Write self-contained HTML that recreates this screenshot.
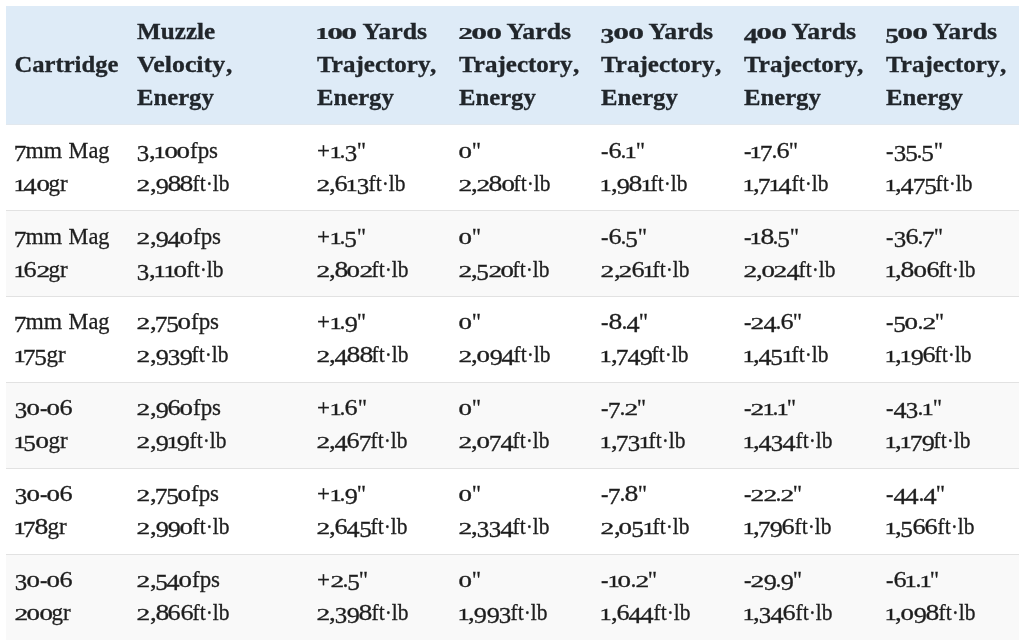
<!DOCTYPE html>
<html lang="en"><head><meta charset="utf-8"><title>Ballistics table</title>
<style>
html,body{margin:0;padding:0;background:#fff;}
body{width:1024px;height:643px;overflow:hidden;position:relative;font-family:"Liberation Serif", "DejaVu Serif", serif;color:#1e1e1e;}
table{position:absolute;left:5.5px;top:6px;width:1012.5px;border-collapse:separate;table-layout:fixed;border-spacing:0;filter:blur(0.45px);will-change:transform;opacity:.999;}
th,td{padding:0 0 0 9.1px;text-align:left;vertical-align:middle;line-height:33px;white-space:nowrap;overflow:visible;box-sizing:border-box;}
th{background:#deebf7;font-weight:bold;font-size:23.5px;height:118px;color:#21262b;}
td{font-size:23.5px;height:86px;border-top:1px solid #e2e2e2;}
tbody tr:first-child td{border-top-color:#e2e8ee;}
tbody tr:nth-child(even) td{background:#f9f9f9;}
.l{display:inline-block;position:relative;}
td .l{top:-1.3px;-webkit-text-stroke:0.3px currentColor;}
tbody tr:nth-child(-n+2) td .l{top:-0.9px;}
th .l{top:-0.5px;-webkit-text-stroke:0.3px currentColor;}
td .d0,td .d1,td .d2{-webkit-text-stroke:0.3px currentColor;}
th .d0,th .d1,th .d2{-webkit-text-stroke:0.22px currentColor;}
.g{display:inline-block;line-height:1;transform-origin:0 0;text-align:left;white-space:pre;}
td .d0{font-size:16.45px;width:12.60px;transform:translate(-0.42px,0px) scaleX(1.635);}
th .d0{font-size:16.92px;width:14.50px;transform:translate(-0.65px,0px) scaleX(1.869);}
td .d1{font-size:16.45px;width:9.40px;transform:translate(-1.57px,0px) scaleX(1.502);}
th .d1{font-size:16.92px;width:11.20px;transform:translate(-1.72px,0px) scaleX(1.637);}
td .d2{font-size:16.45px;width:12.20px;transform:translate(-0.61px,0px) scaleX(1.668);}
th .d2{font-size:16.92px;width:13.30px;transform:translate(-0.68px,0px) scaleX(1.737);}
td .d3{font-size:22.32px;width:12.00px;transform:translate(-0.34px,3.3px) scaleX(1.117);}
th .d3{font-size:21.86px;width:12.90px;transform:translate(-0.43px,3.5px) scaleX(1.250);}
td .d4{font-size:22.32px;width:12.40px;transform:translate(-0.41px,3.3px) scaleX(1.176);}
th .d4{font-size:21.86px;width:13.60px;transform:translate(-0.19px,3.5px) scaleX(1.291);}
td .d5{font-size:22.32px;width:11.50px;transform:translate(-0.82px,3.3px) scaleX(1.134);}
th .d5{font-size:21.86px;width:12.10px;transform:translate(-0.79px,3.5px) scaleX(1.243);}
td .d6{font-size:23.50px;width:12.40px;transform:translate(-0.53px,0px) scaleX(1.116);}
th .d6{font-size:24.44px;width:14.00px;transform:translate(-0.52px,0px) scaleX(1.219);}
td .d7{font-size:22.32px;width:11.00px;transform:translate(-1.33px,3.3px) scaleX(1.138);}
th .d7{font-size:21.86px;width:12.50px;transform:translate(-1.07px,3.5px) scaleX(1.257);}
td .d8{font-size:23.50px;width:12.60px;transform:translate(-0.60px,0px) scaleX(1.175);}
th .d8{font-size:24.44px;width:14.50px;transform:translate(-0.53px,0px) scaleX(1.274);}
td .d9{font-size:22.32px;width:12.30px;transform:translate(-0.30px,3.3px) scaleX(1.176);}
th .d9{font-size:21.86px;width:14.00px;transform:translate(-0.31px,3.5px) scaleX(1.363);}
td .cm{font-size:23.50px;width:5.90px;transform:translate(-0.07px,0px) scaleX(1.143);}
td .pt{font-size:23.50px;width:5.00px;transform:translate(-0.46px,0px) scaleX(1.008);}
td .hy{font-size:23.50px;width:7.70px;transform:translate(0.07px,0.8px) scaleX(0.950);}
td .pl{font-size:23.50px;width:14.10px;transform:translate(0.05px,0px) scaleX(0.978);}
td .qt{font-size:23.50px;width:9.00px;transform:translate(-0.17px,0px) scaleX(0.973);}
th .w0{width:103.85px;transform:translateX(-0.5px) scaleX(1.0470);}
th .w1{width:78.19px;transform:translateX(0px) scaleX(1.0700);}
th .w2{width:88.07px;transform:translateX(0px) scaleX(1.1000);}
th .w3{width:6.29px;transform:translateX(0px) scaleX(1.0700);}
th .w4{width:76.76px;transform:translateX(0px) scaleX(1.0500);}
th .w5{width:70.14px;transform:translateX(0px) scaleX(1.1000);}
th .w6{width:113.49px;transform:translateX(0px) scaleX(1.0650);}
td .w7{width:36.56px;transform:translateX(-0.5px) scaleX(1.0000);}
td .w8{width:46.51px;transform:translateX(0px) scaleX(0.9500);}
td .w9{width:19.19px;transform:translateX(-0.5px) scaleX(0.9800);}
td .w10{width:28.02px;transform:translateX(0px) scaleX(0.9750);}
td .w11{width:37.03px;transform:translateX(-0.5px) scaleX(0.9150);}
</style></head><body>
<table><colgroup><col style="width:122.4px"><col style="width:179.2px"><col style="width:142.35px"><col style="width:142.35px"><col style="width:142.35px"><col style="width:142.35px"><col style="width:141.55px"></colgroup>
<thead><tr><th><span class="l"><span class="g w0">Cartridge</span></span></th><th><span class="l"><span class="g w1">Muzzle</span></span><br><span class="l"><span class="g w2">Velocity</span><span class="g w3">,</span></span><br><span class="l"><span class="g w4">Energy</span></span></th><th><span class="l"><span class="g d1">1</span><span class="g d0">0</span><span class="g d0">0</span><span class="g w5"> Yards</span></span><br><span class="l"><span class="g w6">Trajectory</span><span class="g w3">,</span></span><br><span class="l"><span class="g w4">Energy</span></span></th><th><span class="l"><span class="g d2">2</span><span class="g d0">0</span><span class="g d0">0</span><span class="g w5"> Yards</span></span><br><span class="l"><span class="g w6">Trajectory</span><span class="g w3">,</span></span><br><span class="l"><span class="g w4">Energy</span></span></th><th><span class="l"><span class="g d3">3</span><span class="g d0">0</span><span class="g d0">0</span><span class="g w5"> Yards</span></span><br><span class="l"><span class="g w6">Trajectory</span><span class="g w3">,</span></span><br><span class="l"><span class="g w4">Energy</span></span></th><th><span class="l"><span class="g d4">4</span><span class="g d0">0</span><span class="g d0">0</span><span class="g w5"> Yards</span></span><br><span class="l"><span class="g w6">Trajectory</span><span class="g w3">,</span></span><br><span class="l"><span class="g w4">Energy</span></span></th><th><span class="l"><span class="g d5">5</span><span class="g d0">0</span><span class="g d0">0</span><span class="g w5"> Yards</span></span><br><span class="l"><span class="g w6">Trajectory</span><span class="g w3">,</span></span><br><span class="l"><span class="g w4">Energy</span></span></th></tr></thead>
<tbody><tr><td><span class="l"><span class="g d7">7</span><span class="g w7">mm</span><span class="g w8"> Mag</span></span><br><span class="l"><span class="g d1">1</span><span class="g d4">4</span><span class="g d0">0</span><span class="g w9">gr</span></span></td><td><span class="l"><span class="g d3">3</span><span class="g cm">,</span><span class="g d1">1</span><span class="g d0">0</span><span class="g d0">0</span><span class="g w10">fps</span></span><br><span class="l"><span class="g d2">2</span><span class="g cm">,</span><span class="g d9">9</span><span class="g d8">8</span><span class="g d8">8</span><span class="g w11">ft·lb</span></span></td><td><span class="l"><span class="g pl">+</span><span class="g d1">1</span><span class="g pt">.</span><span class="g d3">3</span><span class="g qt">&quot;</span></span><br><span class="l"><span class="g d2">2</span><span class="g cm">,</span><span class="g d6">6</span><span class="g d1">1</span><span class="g d3">3</span><span class="g w11">ft·lb</span></span></td><td><span class="l"><span class="g d0">0</span><span class="g qt">&quot;</span></span><br><span class="l"><span class="g d2">2</span><span class="g cm">,</span><span class="g d2">2</span><span class="g d8">8</span><span class="g d0">0</span><span class="g w11">ft·lb</span></span></td><td><span class="l"><span class="g hy">-</span><span class="g d6">6</span><span class="g pt">.</span><span class="g d1">1</span><span class="g qt">&quot;</span></span><br><span class="l"><span class="g d1">1</span><span class="g cm">,</span><span class="g d9">9</span><span class="g d8">8</span><span class="g d1">1</span><span class="g w11">ft·lb</span></span></td><td><span class="l"><span class="g hy">-</span><span class="g d1">1</span><span class="g d7">7</span><span class="g pt">.</span><span class="g d6">6</span><span class="g qt">&quot;</span></span><br><span class="l"><span class="g d1">1</span><span class="g cm">,</span><span class="g d7">7</span><span class="g d1">1</span><span class="g d4">4</span><span class="g w11">ft·lb</span></span></td><td><span class="l"><span class="g hy">-</span><span class="g d3">3</span><span class="g d5">5</span><span class="g pt">.</span><span class="g d5">5</span><span class="g qt">&quot;</span></span><br><span class="l"><span class="g d1">1</span><span class="g cm">,</span><span class="g d4">4</span><span class="g d7">7</span><span class="g d5">5</span><span class="g w11">ft·lb</span></span></td></tr>
<tr><td><span class="l"><span class="g d7">7</span><span class="g w7">mm</span><span class="g w8"> Mag</span></span><br><span class="l"><span class="g d1">1</span><span class="g d6">6</span><span class="g d2">2</span><span class="g w9">gr</span></span></td><td><span class="l"><span class="g d2">2</span><span class="g cm">,</span><span class="g d9">9</span><span class="g d4">4</span><span class="g d0">0</span><span class="g w10">fps</span></span><br><span class="l"><span class="g d3">3</span><span class="g cm">,</span><span class="g d1">1</span><span class="g d1">1</span><span class="g d0">0</span><span class="g w11">ft·lb</span></span></td><td><span class="l"><span class="g pl">+</span><span class="g d1">1</span><span class="g pt">.</span><span class="g d5">5</span><span class="g qt">&quot;</span></span><br><span class="l"><span class="g d2">2</span><span class="g cm">,</span><span class="g d8">8</span><span class="g d0">0</span><span class="g d2">2</span><span class="g w11">ft·lb</span></span></td><td><span class="l"><span class="g d0">0</span><span class="g qt">&quot;</span></span><br><span class="l"><span class="g d2">2</span><span class="g cm">,</span><span class="g d5">5</span><span class="g d2">2</span><span class="g d0">0</span><span class="g w11">ft·lb</span></span></td><td><span class="l"><span class="g hy">-</span><span class="g d6">6</span><span class="g pt">.</span><span class="g d5">5</span><span class="g qt">&quot;</span></span><br><span class="l"><span class="g d2">2</span><span class="g cm">,</span><span class="g d2">2</span><span class="g d6">6</span><span class="g d1">1</span><span class="g w11">ft·lb</span></span></td><td><span class="l"><span class="g hy">-</span><span class="g d1">1</span><span class="g d8">8</span><span class="g pt">.</span><span class="g d5">5</span><span class="g qt">&quot;</span></span><br><span class="l"><span class="g d2">2</span><span class="g cm">,</span><span class="g d0">0</span><span class="g d2">2</span><span class="g d4">4</span><span class="g w11">ft·lb</span></span></td><td><span class="l"><span class="g hy">-</span><span class="g d3">3</span><span class="g d6">6</span><span class="g pt">.</span><span class="g d7">7</span><span class="g qt">&quot;</span></span><br><span class="l"><span class="g d1">1</span><span class="g cm">,</span><span class="g d8">8</span><span class="g d0">0</span><span class="g d6">6</span><span class="g w11">ft·lb</span></span></td></tr>
<tr><td><span class="l"><span class="g d7">7</span><span class="g w7">mm</span><span class="g w8"> Mag</span></span><br><span class="l"><span class="g d1">1</span><span class="g d7">7</span><span class="g d5">5</span><span class="g w9">gr</span></span></td><td><span class="l"><span class="g d2">2</span><span class="g cm">,</span><span class="g d7">7</span><span class="g d5">5</span><span class="g d0">0</span><span class="g w10">fps</span></span><br><span class="l"><span class="g d2">2</span><span class="g cm">,</span><span class="g d9">9</span><span class="g d3">3</span><span class="g d9">9</span><span class="g w11">ft·lb</span></span></td><td><span class="l"><span class="g pl">+</span><span class="g d1">1</span><span class="g pt">.</span><span class="g d9">9</span><span class="g qt">&quot;</span></span><br><span class="l"><span class="g d2">2</span><span class="g cm">,</span><span class="g d4">4</span><span class="g d8">8</span><span class="g d8">8</span><span class="g w11">ft·lb</span></span></td><td><span class="l"><span class="g d0">0</span><span class="g qt">&quot;</span></span><br><span class="l"><span class="g d2">2</span><span class="g cm">,</span><span class="g d0">0</span><span class="g d9">9</span><span class="g d4">4</span><span class="g w11">ft·lb</span></span></td><td><span class="l"><span class="g hy">-</span><span class="g d8">8</span><span class="g pt">.</span><span class="g d4">4</span><span class="g qt">&quot;</span></span><br><span class="l"><span class="g d1">1</span><span class="g cm">,</span><span class="g d7">7</span><span class="g d4">4</span><span class="g d9">9</span><span class="g w11">ft·lb</span></span></td><td><span class="l"><span class="g hy">-</span><span class="g d2">2</span><span class="g d4">4</span><span class="g pt">.</span><span class="g d6">6</span><span class="g qt">&quot;</span></span><br><span class="l"><span class="g d1">1</span><span class="g cm">,</span><span class="g d4">4</span><span class="g d5">5</span><span class="g d1">1</span><span class="g w11">ft·lb</span></span></td><td><span class="l"><span class="g hy">-</span><span class="g d5">5</span><span class="g d0">0</span><span class="g pt">.</span><span class="g d2">2</span><span class="g qt">&quot;</span></span><br><span class="l"><span class="g d1">1</span><span class="g cm">,</span><span class="g d1">1</span><span class="g d9">9</span><span class="g d6">6</span><span class="g w11">ft·lb</span></span></td></tr>
<tr><td><span class="l"><span class="g d3">3</span><span class="g d0">0</span><span class="g hy">-</span><span class="g d0">0</span><span class="g d6">6</span></span><br><span class="l"><span class="g d1">1</span><span class="g d5">5</span><span class="g d0">0</span><span class="g w9">gr</span></span></td><td><span class="l"><span class="g d2">2</span><span class="g cm">,</span><span class="g d9">9</span><span class="g d6">6</span><span class="g d0">0</span><span class="g w10">fps</span></span><br><span class="l"><span class="g d2">2</span><span class="g cm">,</span><span class="g d9">9</span><span class="g d1">1</span><span class="g d9">9</span><span class="g w11">ft·lb</span></span></td><td><span class="l"><span class="g pl">+</span><span class="g d1">1</span><span class="g pt">.</span><span class="g d6">6</span><span class="g qt">&quot;</span></span><br><span class="l"><span class="g d2">2</span><span class="g cm">,</span><span class="g d4">4</span><span class="g d6">6</span><span class="g d7">7</span><span class="g w11">ft·lb</span></span></td><td><span class="l"><span class="g d0">0</span><span class="g qt">&quot;</span></span><br><span class="l"><span class="g d2">2</span><span class="g cm">,</span><span class="g d0">0</span><span class="g d7">7</span><span class="g d4">4</span><span class="g w11">ft·lb</span></span></td><td><span class="l"><span class="g hy">-</span><span class="g d7">7</span><span class="g pt">.</span><span class="g d2">2</span><span class="g qt">&quot;</span></span><br><span class="l"><span class="g d1">1</span><span class="g cm">,</span><span class="g d7">7</span><span class="g d3">3</span><span class="g d1">1</span><span class="g w11">ft·lb</span></span></td><td><span class="l"><span class="g hy">-</span><span class="g d2">2</span><span class="g d1">1</span><span class="g pt">.</span><span class="g d1">1</span><span class="g qt">&quot;</span></span><br><span class="l"><span class="g d1">1</span><span class="g cm">,</span><span class="g d4">4</span><span class="g d3">3</span><span class="g d4">4</span><span class="g w11">ft·lb</span></span></td><td><span class="l"><span class="g hy">-</span><span class="g d4">4</span><span class="g d3">3</span><span class="g pt">.</span><span class="g d1">1</span><span class="g qt">&quot;</span></span><br><span class="l"><span class="g d1">1</span><span class="g cm">,</span><span class="g d1">1</span><span class="g d7">7</span><span class="g d9">9</span><span class="g w11">ft·lb</span></span></td></tr>
<tr><td><span class="l"><span class="g d3">3</span><span class="g d0">0</span><span class="g hy">-</span><span class="g d0">0</span><span class="g d6">6</span></span><br><span class="l"><span class="g d1">1</span><span class="g d7">7</span><span class="g d8">8</span><span class="g w9">gr</span></span></td><td><span class="l"><span class="g d2">2</span><span class="g cm">,</span><span class="g d7">7</span><span class="g d5">5</span><span class="g d0">0</span><span class="g w10">fps</span></span><br><span class="l"><span class="g d2">2</span><span class="g cm">,</span><span class="g d9">9</span><span class="g d9">9</span><span class="g d0">0</span><span class="g w11">ft·lb</span></span></td><td><span class="l"><span class="g pl">+</span><span class="g d1">1</span><span class="g pt">.</span><span class="g d9">9</span><span class="g qt">&quot;</span></span><br><span class="l"><span class="g d2">2</span><span class="g cm">,</span><span class="g d6">6</span><span class="g d4">4</span><span class="g d5">5</span><span class="g w11">ft·lb</span></span></td><td><span class="l"><span class="g d0">0</span><span class="g qt">&quot;</span></span><br><span class="l"><span class="g d2">2</span><span class="g cm">,</span><span class="g d3">3</span><span class="g d3">3</span><span class="g d4">4</span><span class="g w11">ft·lb</span></span></td><td><span class="l"><span class="g hy">-</span><span class="g d7">7</span><span class="g pt">.</span><span class="g d8">8</span><span class="g qt">&quot;</span></span><br><span class="l"><span class="g d2">2</span><span class="g cm">,</span><span class="g d0">0</span><span class="g d5">5</span><span class="g d1">1</span><span class="g w11">ft·lb</span></span></td><td><span class="l"><span class="g hy">-</span><span class="g d2">2</span><span class="g d2">2</span><span class="g pt">.</span><span class="g d2">2</span><span class="g qt">&quot;</span></span><br><span class="l"><span class="g d1">1</span><span class="g cm">,</span><span class="g d7">7</span><span class="g d9">9</span><span class="g d6">6</span><span class="g w11">ft·lb</span></span></td><td><span class="l"><span class="g hy">-</span><span class="g d4">4</span><span class="g d4">4</span><span class="g pt">.</span><span class="g d4">4</span><span class="g qt">&quot;</span></span><br><span class="l"><span class="g d1">1</span><span class="g cm">,</span><span class="g d5">5</span><span class="g d6">6</span><span class="g d6">6</span><span class="g w11">ft·lb</span></span></td></tr>
<tr><td><span class="l"><span class="g d3">3</span><span class="g d0">0</span><span class="g hy">-</span><span class="g d0">0</span><span class="g d6">6</span></span><br><span class="l"><span class="g d2">2</span><span class="g d0">0</span><span class="g d0">0</span><span class="g w9">gr</span></span></td><td><span class="l"><span class="g d2">2</span><span class="g cm">,</span><span class="g d5">5</span><span class="g d4">4</span><span class="g d0">0</span><span class="g w10">fps</span></span><br><span class="l"><span class="g d2">2</span><span class="g cm">,</span><span class="g d8">8</span><span class="g d6">6</span><span class="g d6">6</span><span class="g w11">ft·lb</span></span></td><td><span class="l"><span class="g pl">+</span><span class="g d2">2</span><span class="g pt">.</span><span class="g d5">5</span><span class="g qt">&quot;</span></span><br><span class="l"><span class="g d2">2</span><span class="g cm">,</span><span class="g d3">3</span><span class="g d9">9</span><span class="g d8">8</span><span class="g w11">ft·lb</span></span></td><td><span class="l"><span class="g d0">0</span><span class="g qt">&quot;</span></span><br><span class="l"><span class="g d1">1</span><span class="g cm">,</span><span class="g d9">9</span><span class="g d9">9</span><span class="g d3">3</span><span class="g w11">ft·lb</span></span></td><td><span class="l"><span class="g hy">-</span><span class="g d1">1</span><span class="g d0">0</span><span class="g pt">.</span><span class="g d2">2</span><span class="g qt">&quot;</span></span><br><span class="l"><span class="g d1">1</span><span class="g cm">,</span><span class="g d6">6</span><span class="g d4">4</span><span class="g d4">4</span><span class="g w11">ft·lb</span></span></td><td><span class="l"><span class="g hy">-</span><span class="g d2">2</span><span class="g d9">9</span><span class="g pt">.</span><span class="g d9">9</span><span class="g qt">&quot;</span></span><br><span class="l"><span class="g d1">1</span><span class="g cm">,</span><span class="g d3">3</span><span class="g d4">4</span><span class="g d6">6</span><span class="g w11">ft·lb</span></span></td><td><span class="l"><span class="g hy">-</span><span class="g d6">6</span><span class="g d1">1</span><span class="g pt">.</span><span class="g d1">1</span><span class="g qt">&quot;</span></span><br><span class="l"><span class="g d1">1</span><span class="g cm">,</span><span class="g d0">0</span><span class="g d9">9</span><span class="g d8">8</span><span class="g w11">ft·lb</span></span></td></tr></tbody>
</table></body></html>
